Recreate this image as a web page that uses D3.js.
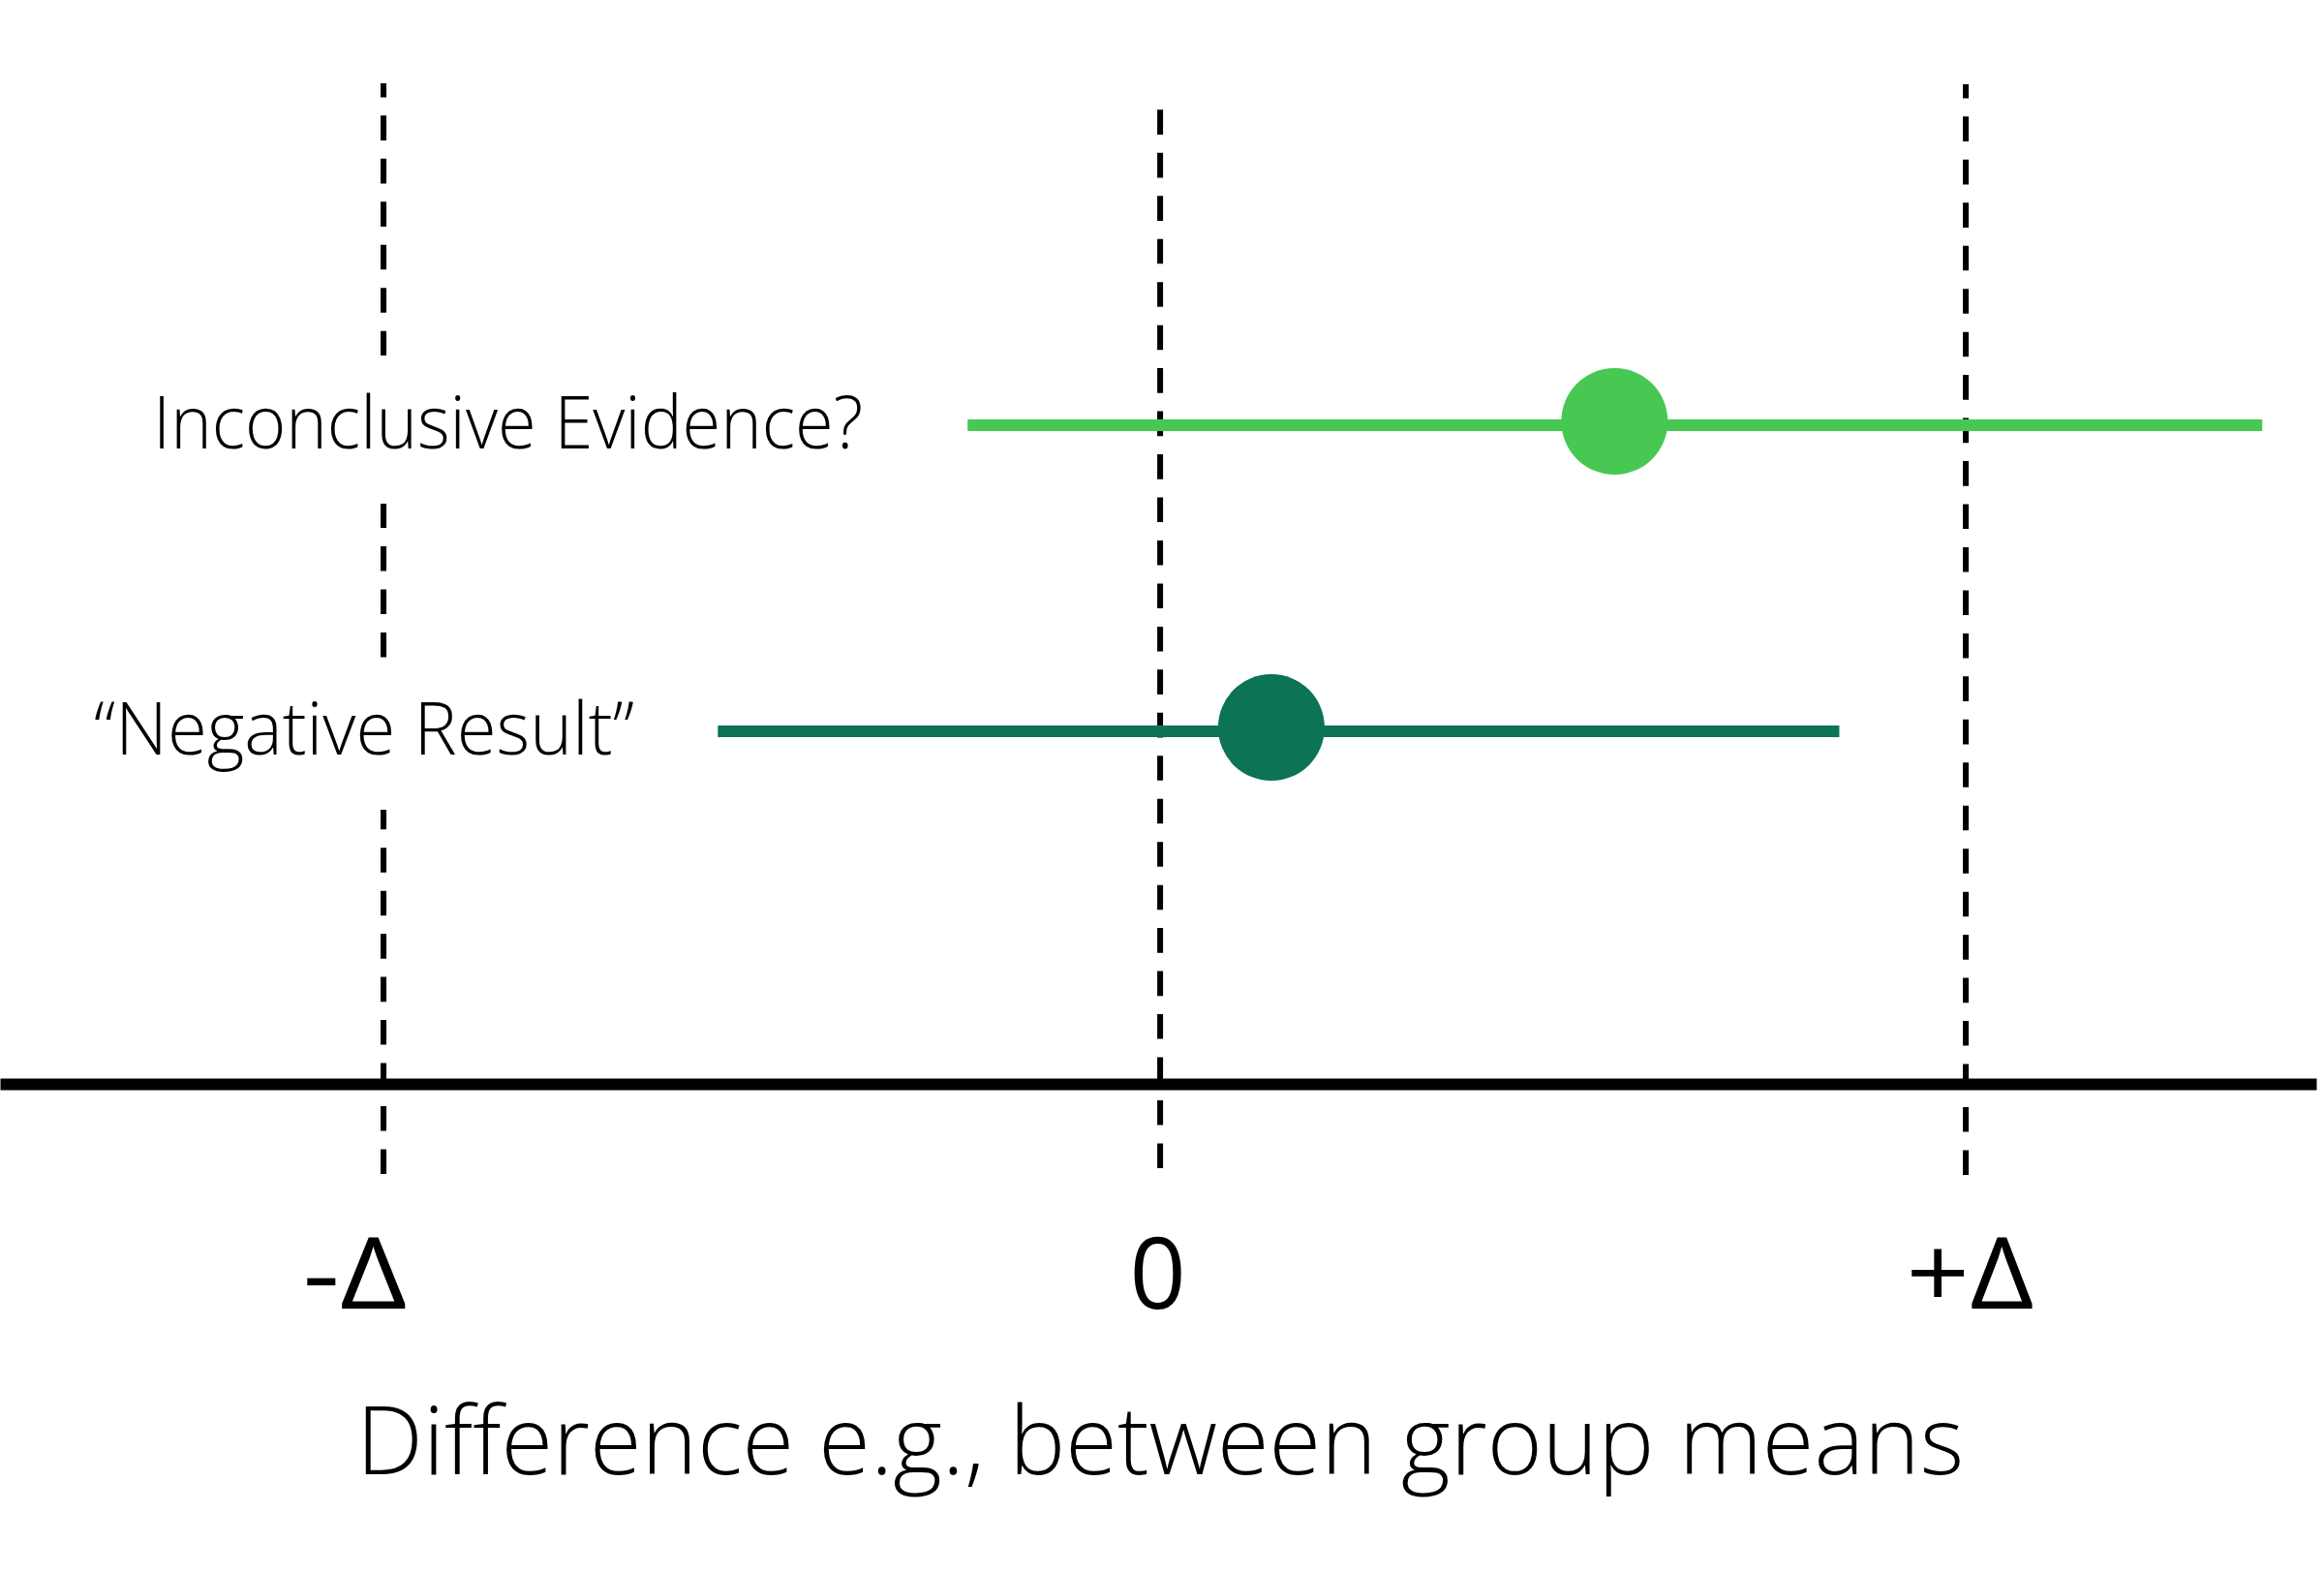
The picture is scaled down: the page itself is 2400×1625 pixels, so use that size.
<!DOCTYPE html>
<html>
<head>
<meta charset="utf-8">
<script src="https://cdn.jsdelivr.net/npm/d3@7"></script>
<style>
  html, body { margin: 0; padding: 0; background: #ffffff; }
  svg { display: block; }
  text { font-family: "Open Sans", "Noto Sans", sans-serif; fill: #000; }
</style>
</head>
<body>
<svg id="chart" width="2400" height="1625"></svg>
<script>
// ---- data ----
const categories = ["Inconclusive Evidence?", "\u201CNegative Result\u201D"];
const pointEstimates = [0.564, 0.138];
const lowerBounds = [-0.239, -0.549];
const upperBounds = [1.368, 0.843];
const seriesColors = ["#47C853", "#0C7355"];
const refValues = [-0.964, 0, 1];
const tickLabels = ["-\u0394", "0", "+\u0394"];
const axisTitle = "Difference e.g., between group means";

// ---- layout ----
const svg = d3.select("#chart");
const axisY = 1119;

const x = d3.scaleLinear().domain([-1.44, 1.435]).range([0, 2392]);
const y = d3.scalePoint().domain(categories).range([439, 755]);

// reference dashed lines (drawn bottom to top)
const refTop = [86, 113, 87];
const refBottom = [1212, 1206, 1213];
svg.append("g").selectAll("line").data(refValues).join("line")
  .attr("x1", d => x(d)).attr("x2", d => x(d))
  .attr("y1", (d, i) => refBottom[i]).attr("y2", (d, i) => refTop[i])
  .attr("stroke", "#000").attr("stroke-width", 6)
  .attr("stroke-dasharray", "25.6 18.86");

// axis
const axis = d3.axisBottom(x)
  .tickValues(refValues)
  .tickFormat((d, i) => tickLabels[i])
  .tickSize(0).tickSizeOuter(0);
const gAxis = svg.append("g").attr("transform", `translate(0,${axisY})`).call(axis);
gAxis.select(".domain").attr("stroke", "#000").attr("stroke-width", 12);
const tickDx = [-30, -3, 4];
const tickW = [108, 0, 132];
gAxis.selectAll(".tick text")
  .attr("y", 232).attr("dy", 0)
  .attr("dx", (d, i) => tickDx[i])
  .style("font-family", "'Open Sans', sans-serif")
  .style("font-size", "102px").style("font-weight", 400)
  .attr("fill", "#000")
  .each(function (d, i) {
    if (tickW[i]) d3.select(this).attr("textLength", tickW[i]).attr("lengthAdjust", "spacingAndGlyphs");
  });

// axis title
svg.append("text")
  .attr("x", x(0)).attr("y", 1522)
  .attr("text-anchor", "middle")
  .style("font-size", "98px").style("font-weight", 300)
  .attr("textLength", 1660).attr("lengthAdjust", "spacingAndGlyphs")
  .text(axisTitle);

// intervals
const rows = categories.map((c, i) => ({
  c, p: pointEstimates[i], lo: lowerBounds[i], hi: upperBounds[i], col: seriesColors[i]
}));
svg.append("g").selectAll("line").data(rows).join("line")
  .attr("x1", d => x(d.lo)).attr("x2", d => x(d.hi))
  .attr("y1", d => y(d.c)).attr("y2", d => y(d.c))
  .attr("stroke", d => d.col).attr("stroke-width", 12);
svg.append("g").selectAll("circle").data(rows).join("circle")
  .attr("cx", d => x(d.p)).attr("cy", d => y(d.c) - 4)
  .attr("r", 55).attr("fill", d => d.col);

// row labels with white boxes behind them
const labelX = [158, 97];
const labelW = [733, 558];
const gLab = svg.append("g");
gLab.selectAll("rect").data(rows).join("rect")
  .attr("x", (d, i) => labelX[i] - 20)
  .attr("y", d => y(d.c) - 72)
  .attr("width", (d, i) => labelW[i] + 40)
  .attr("height", 153)
  .attr("fill", "#ffffff");
gLab.selectAll("text").data(rows).join("text")
  .attr("x", (d, i) => labelX[i])
  .attr("y", d => y(d.c) + 24)
  .style("font-size", "76px").style("font-weight", 300)
  .attr("textLength", (d, i) => labelW[i]).attr("lengthAdjust", "spacingAndGlyphs")
  .text(d => d.c);
</script>
</body>
</html>
